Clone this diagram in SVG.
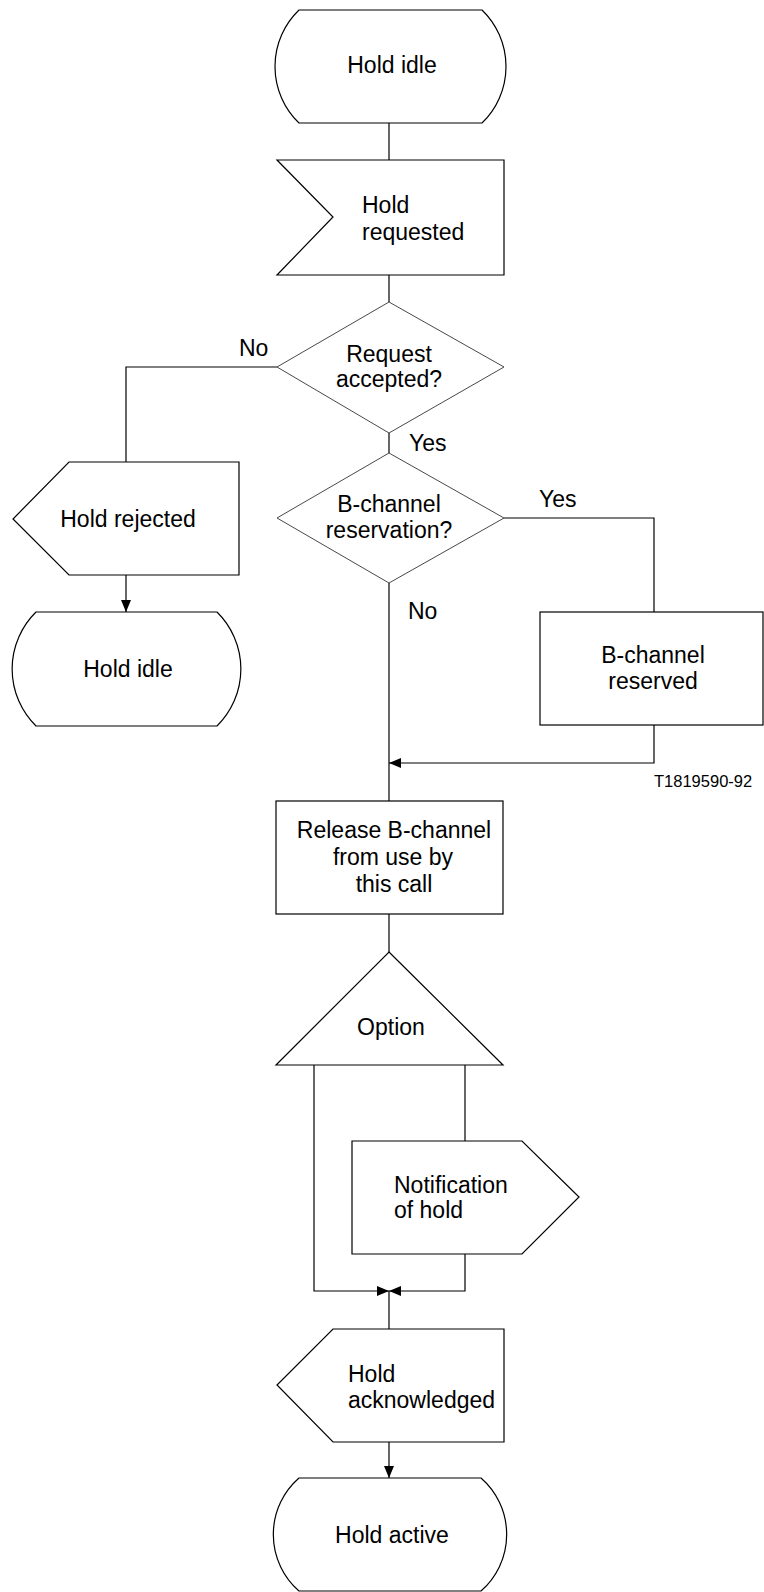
<svg xmlns="http://www.w3.org/2000/svg" width="764" height="1592" viewBox="0 0 764 1592">
<defs>
<style>
.s{fill:#fff;stroke:#000;stroke-width:1.2}
.d{fill:#fff;stroke:#333;stroke-width:0.9}
.c{fill:none;stroke:#000;stroke-width:1.2}
text{font-family:"Liberation Sans",Arial,sans-serif;font-size:23px;fill:#000}
.m{text-anchor:middle}
.sm{font-size:16.5px}
</style>
<marker id="ah" viewBox="0 0 12 10" refX="12" refY="5" markerWidth="12" markerHeight="10" markerUnits="userSpaceOnUse" orient="auto">
<path d="M0,0 L12,5 L0,10 Z" fill="#000"/>
</marker>
</defs>
<rect width="764" height="1592" fill="#fff"/>
<g id="connectors">
<line class="c" x1="389" y1="123" x2="389" y2="160"/>
<line class="c" x1="389" y1="275" x2="389" y2="302"/>
<polyline class="c" points="277,367 126,367 126,462"/>
<line class="c" x1="389" y1="433" x2="389" y2="453"/>
<line class="c" x1="126" y1="575" x2="126" y2="612" marker-end="url(#ah)"/>
<polyline class="c" points="504,518 654,518 654,612"/>
<line class="c" x1="389" y1="583" x2="389" y2="801"/>
<polyline class="c" points="654,725 654,763 389,763" marker-end="url(#ah)"/>
<line class="c" x1="389" y1="914" x2="389" y2="952"/>
<polyline class="c" points="314,1065 314,1291 389,1291" marker-end="url(#ah)"/>
<line class="c" x1="465" y1="1065" x2="465" y2="1141"/>
<polyline class="c" points="465,1254 465,1291 389,1291" marker-end="url(#ah)"/>
<line class="c" x1="389" y1="1291" x2="389" y2="1329"/>
<line class="c" x1="389" y1="1442" x2="389" y2="1478" marker-end="url(#ah)"/>
<text x="239" y="356">No</text>
<text x="409" y="451">Yes</text>
<text x="539" y="507">Yes</text>
<text x="408" y="619">No</text>
</g>
<g id="hold-idle-1">
<path class="s" d="M299,10 L482,10 A78.5,78.5 0 0 1 482,123 L299,123 A78.5,78.5 0 0 1 299,10 Z"/>
<text class="m" x="392" y="73">Hold idle</text>
</g>
<g id="hold-requested">
<path class="s" d="M277,160 L504,160 L504,275 L277,275 L333,217 Z"/>
<text x="362" y="213">Hold</text>
<text x="362" y="240">requested</text>
</g>
<g id="request-accepted">
<path class="d" d="M389,302 L504,367 L389,433 L277,367 Z"/>
<text class="m" x="389" y="362">Request</text>
<text class="m" x="389" y="387">accepted?</text>
</g>
<g id="bchannel-reservation">
<path class="d" d="M389,453 L504,518 L389,583 L277,518 Z"/>
<text class="m" x="389" y="512">B-channel</text>
<text class="m" x="389" y="538">reservation?</text>
</g>
<g id="hold-rejected">
<path class="s" d="M69,462 L239,462 L239,575 L69,575 L13,519 Z"/>
<text class="m" x="128" y="527">Hold rejected</text>
</g>
<g id="hold-idle-2">
<path class="s" d="M36,612 L217,612 A80,80 0 0 1 217,726 L36,726 A80,80 0 0 1 36,612 Z"/>
<text class="m" x="128" y="677">Hold idle</text>
</g>
<g id="bchannel-reserved">
<rect class="s" x="540" y="612" width="223" height="113"/>
<text class="m" x="653" y="663">B-channel</text>
<text class="m" x="653" y="689">reserved</text>
</g>
<g id="label">
<text class="sm" x="654" y="787">T1819590-92</text>
</g>
<g id="release">
<rect class="s" x="276" y="801" width="227" height="113"/>
<text class="m" x="394" y="838">Release B-channel</text>
<text class="m" x="393" y="865">from use by</text>
<text class="m" x="394" y="892">this call</text>
</g>
<g id="option">
<path class="s" d="M389,952 L503,1065 L276,1065 Z"/>
<text class="m" x="391" y="1035">Option</text>
</g>
<g id="notification">
<path class="s" d="M352,1141 L522,1141 L579,1197 L522,1254 L352,1254 Z"/>
<text x="394" y="1193">Notification</text>
<text x="394" y="1218">of hold</text>
</g>
<g id="hold-acknowledged">
<path class="s" d="M333,1329 L504,1329 L504,1442 L333,1442 L277,1385 Z"/>
<text x="348" y="1382">Hold</text>
<text x="348" y="1408">acknowledged</text>
</g>
<g id="hold-active">
<path class="s" d="M299,1478 L481,1478 A75,75 0 0 1 481,1591 L299,1591 A75,75 0 0 1 299,1478 Z"/>
<text class="m" x="392" y="1543">Hold active</text>
</g>
</svg>
